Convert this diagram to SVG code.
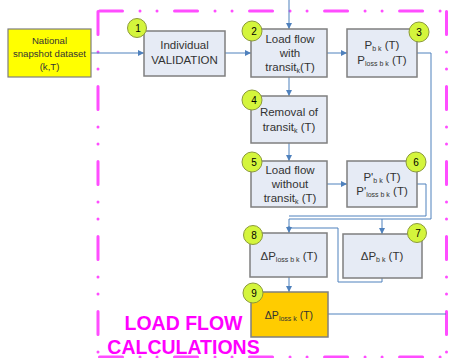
<svg xmlns="http://www.w3.org/2000/svg" width="449" height="358" viewBox="0 0 449 358">
<defs>
<marker id="arr" viewBox="0 0 6 6" refX="6" refY="3" markerWidth="6" markerHeight="6" markerUnits="userSpaceOnUse" orient="auto">
<path d="M0,0 L6,3 L0,6 z" fill="#4f81bd"/>
</marker>
<style>
.frame{stroke:#ff4dff;stroke-width:3;fill:none;stroke-linecap:round;stroke-dasharray:23 17.5 0.01 17 0.01 17.5}
.box{fill:#e6ebf5;stroke:#7f7f7f;stroke-width:1.5}
.box9{fill:#ffcc00;stroke:#7f7f7f;stroke-width:1.5}
.nat{fill:#ffff00;stroke:#7f7f7f;stroke-width:1.2}
.num{fill:#d4f53c;stroke:#8c9a3a;stroke-width:1}
.numt{font-family:"Liberation Sans",Arial,sans-serif;font-size:10px;fill:#000;text-anchor:middle}
.t{font-family:"Liberation Sans",Arial,sans-serif;font-size:11.5px;fill:#333;text-anchor:middle}
.ts{font-family:"Liberation Sans",Arial,sans-serif;font-size:9.6px;fill:#333;text-anchor:middle}
.sub{font-size:7px}
.conn{stroke:#4f81bd;stroke-width:1;fill:none}
.title{font-family:"Liberation Sans",Arial,sans-serif;font-size:19.5px;font-weight:bold;fill:#ff00ff;text-anchor:middle}
</style>
</defs>
<rect width="449" height="358" fill="#ffffff"/>

<g id="frame">
<line class="frame" x1="98" y1="11.5" x2="98" y2="362"/>
<line class="frame" x1="446.5" y1="11.5" x2="446.5" y2="362"/>
<line class="frame" x1="99.5" y1="11" x2="452" y2="11"/>
<line class="frame" x1="99.5" y1="357" x2="452" y2="357"/>
</g>

<g id="connectors">
<path class="conn" d="M91,53 H144" marker-end="url(#arr)"/>
<path class="conn" d="M225,53 H251" marker-end="url(#arr)"/>
<path class="conn" d="M289,0 V29" marker-end="url(#arr)"/>
<path class="conn" d="M327,53 H347" marker-end="url(#arr)"/>
<path class="conn" d="M289,77 V96" marker-end="url(#arr)"/>
<path class="conn" d="M289,143 V161" marker-end="url(#arr)"/>
<path class="conn" d="M327,184 H347" marker-end="url(#arr)"/>
<path class="conn" d="M417,53 H431 V219 H289 V233" marker-end="url(#arr)"/>
<path class="conn" d="M382,219 V234" marker-end="url(#arr)"/>
<path class="conn" d="M417,184 H426 V216 H289"/>
<path class="conn" d="M382,278 V282 H338 V228 H289"/>
<circle cx="289" cy="228" r="1.8" fill="#4f81bd"/>
<path class="conn" d="M289,277 V292" marker-end="url(#arr)"/>
<path class="conn" d="M328,314 H446"/>
</g>

<g id="national">
<rect class="nat" x="8" y="29" width="83" height="48"/>
<text class="ts" x="49.5" y="44">National</text>
<text class="ts" x="49.5" y="57">snapshot dataset</text>
<text class="ts" x="49.5" y="70">(k,T)</text>
</g>

<g id="node1">
<rect class="box" x="144" y="31" width="81" height="45"/>
<text class="t" x="184.5" y="49">Individual</text>
<text class="t" x="184.5" y="64">VALIDATION</text>
<circle class="num" cx="137" cy="28" r="9.5"/>
<text class="numt" x="138" y="32">1</text>
</g>

<g id="node2">
<rect class="box" x="251" y="29" width="76" height="48"/>
<text class="t" x="290" y="43">Load flow</text>
<text class="t" x="290" y="57">with</text>
<text class="t" x="290" y="71">transit<tspan class="sub" dy="2">k</tspan><tspan dy="-2">(T)</tspan></text>
<circle class="num" cx="252" cy="31" r="10"/>
<text class="numt" x="254" y="35">2</text>
</g>

<g id="node3">
<rect class="box" x="347" y="29" width="70" height="48"/>
<text class="t" x="382" y="49">P<tspan class="sub" dy="2">b k</tspan><tspan dy="-2"> (T)</tspan></text>
<text class="t" x="382" y="64">P<tspan class="sub" dy="2">loss b k</tspan><tspan dy="-2"> (T)</tspan></text>
<circle class="num" cx="419" cy="32" r="10"/>
<text class="numt" x="419" y="36">3</text>
</g>

<g id="node4">
<rect class="box" x="251" y="96" width="76" height="47"/>
<text class="t" x="289" y="116">Removal of</text>
<text class="t" x="289" y="131">transit<tspan class="sub" dy="2">k</tspan><tspan dy="-2"> (T)</tspan></text>
<circle class="num" cx="252" cy="100" r="10"/>
<text class="numt" x="254" y="104">4</text>
</g>

<g id="node5">
<rect class="box" x="251" y="161" width="76" height="46"/>
<text class="t" x="290" y="174">Load flow</text>
<text class="t" x="290" y="188">without</text>
<text class="t" x="290" y="202">transit<tspan class="sub" dy="2">k</tspan><tspan dy="-2"> (T)</tspan></text>
<circle class="num" cx="252" cy="162" r="10"/>
<text class="numt" x="254" y="166">5</text>
</g>

<g id="node6">
<rect class="box" x="347" y="161" width="70" height="46"/>
<text class="t" x="382" y="181">P'<tspan class="sub" dy="2">b k</tspan><tspan dy="-2"> (T)</tspan></text>
<text class="t" x="382" y="195">P'<tspan class="sub" dy="2">loss b k</tspan><tspan dy="-2"> (T)</tspan></text>
<circle class="num" cx="416" cy="162" r="10"/>
<text class="numt" x="416" y="166">6</text>
</g>

<g id="node7">
<rect class="box" x="343" y="234" width="79" height="44"/>
<text class="t" x="382" y="260">ΔP<tspan class="sub" dy="2">b k</tspan><tspan dy="-2"> (T)</tspan></text>
<circle class="num" cx="417" cy="233" r="9.5"/>
<text class="numt" x="418" y="237">7</text>
</g>

<g id="node8">
<rect class="box" x="250" y="233" width="77" height="44"/>
<text class="t" x="289" y="260">ΔP<tspan class="sub" dy="2">loss b k</tspan><tspan dy="-2"> (T)</tspan></text>
<circle class="num" cx="253" cy="235" r="9.5"/>
<text class="numt" x="254" y="239">8</text>
</g>

<g id="node9">
<rect class="box9" x="251" y="292" width="77" height="45"/>
<text class="t" x="289" y="319" style="font-size:10.5px">ΔP<tspan class="sub" dy="2">loss k</tspan><tspan dy="-2"> (T)</tspan></text>
<circle class="num" cx="253" cy="293" r="10"/>
<text class="numt" x="254" y="297">9</text>
</g>

<g id="label">
<text class="title" x="183.5" y="330">LOAD FLOW</text>
<text class="title" x="183.5" y="354">CALCULATIONS</text>
</g>
</svg>
